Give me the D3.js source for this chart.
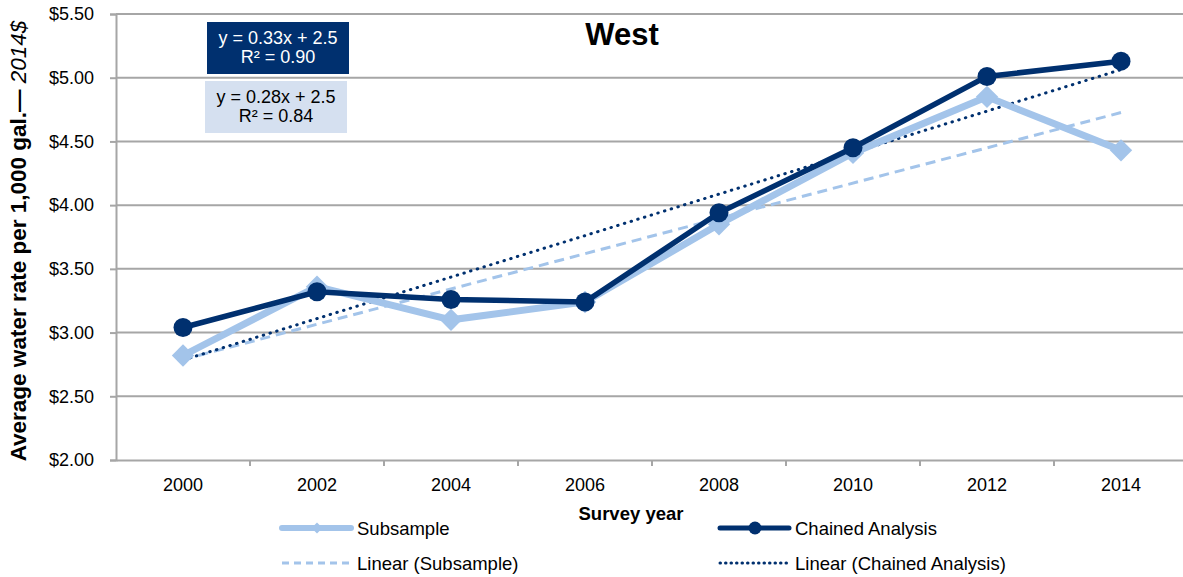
<!DOCTYPE html>
<html>
<head>
<meta charset="utf-8">
<script src="https://cdn.jsdelivr.net/npm/d3@7"></script>
<style>
  body { margin: 0; background: #fff; }
  svg { font-family: "Liberation Sans", Arial, sans-serif; }
</style>
</head>
<body>
<div class="chart"></div>
<script>
var years = ["2000", "2002", "2004", "2006", "2008", "2010", "2012", "2014"];
var subsample = [2.82, 3.36, 3.10, 3.24, 3.85, 4.41, 4.85, 4.43];
var chained = [3.04, 3.32, 3.26, 3.24, 3.94, 4.45, 5.01, 5.13];
var yTicks = [2.0, 2.5, 3.0, 3.5, 4.0, 4.5, 5.0, 5.5];
var eqChained = ["y = 0.33x + 2.5", "R² = 0.90"];
var eqSub = ["y = 0.28x + 2.5", "R² = 0.84"];

var width = 1183, height = 577;
var dark = "#00306f", light = "#a3c4ea", grid = "#a6a6a6";
var font = "Liberation Sans, Arial, sans-serif";

var svg = d3.select(".chart").append("svg")
    .attr("width", width)
    .attr("height", height);

var x = d3.scaleBand().domain(years).range([116, 1188]);
var y = d3.scaleLinear().domain([2, 5.5]).range([460, 14]);
var cx = function(i) { return x(years[i]) + x.bandwidth() / 2; };

// gridlines
svg.append("g").selectAll("line")
    .data(yTicks.slice(1)).enter()
    .append("line")
    .attr("x1", 116).attr("x2", width)
    .attr("y1", function(d) { return y(d); })
    .attr("y2", function(d) { return y(d); })
    .attr("stroke", grid).attr("stroke-width", 2);

// y axis
var yAxis = svg.append("g")
    .attr("transform", "translate(116,0)")
    .call(d3.axisLeft(y).tickValues(yTicks).tickSize(6).tickPadding(16)
      .tickFormat(d3.format("$.2f")));
yAxis.select(".domain").attr("stroke", grid).attr("stroke-width", 2);
yAxis.selectAll(".tick line").attr("stroke", grid).attr("stroke-width", 2);
yAxis.selectAll("text").attr("font-size", 18).attr("fill", "#000")
    .attr("font-family", font);

// x axis
var xAxis = svg.append("g")
    .attr("transform", "translate(0,460)")
    .call(d3.axisBottom(x).tickSize(0).tickPadding(18));
xAxis.select(".domain").attr("stroke", grid).attr("stroke-width", 2);
xAxis.selectAll("text").attr("font-size", 18).attr("fill", "#000")
    .attr("font-family", font);
svg.append("g").selectAll("line")
    .data(years.slice(1)).enter()
    .append("line")
    .attr("x1", function(d) { return x(d); })
    .attr("x2", function(d) { return x(d); })
    .attr("y1", 460).attr("y2", 466)
    .attr("stroke", grid).attr("stroke-width", 2);

// least squares trend
function fit(vals) {
  var n = vals.length, xs = d3.range(1, n + 1);
  var mx = d3.mean(xs), my = d3.mean(vals);
  var num = d3.sum(xs, function(v, i) { return (v - mx) * (vals[i] - my); });
  var den = d3.sum(xs, function(v) { return (v - mx) * (v - mx); });
  var b = num / den, a = my - b * mx;
  return [[0, a + b], [n - 1, a + b * n]];
}

var line = d3.line()
    .x(function(d, i) { return cx(i); })
    .y(function(d) { return y(d); });
var tline = d3.line()
    .x(function(d) { return cx(d[0]); })
    .y(function(d) { return y(d[1]); });

svg.append("path").datum(fit(subsample))
    .attr("d", tline).attr("fill", "none")
    .attr("stroke", light).attr("stroke-width", 3)
    .attr("stroke-dasharray", "10,6");
svg.append("path").datum(fit(chained))
    .attr("d", tline).attr("fill", "none")
    .attr("stroke", dark).attr("stroke-width", 3)
    .attr("stroke-dasharray", "0.5,6.5").attr("stroke-linecap", "round");

// series
svg.append("path").datum(subsample)
    .attr("d", line).attr("fill", "none")
    .attr("stroke", light).attr("stroke-width", 7);
svg.append("g").selectAll("path")
    .data(subsample).enter()
    .append("path")
    .attr("d", d3.symbol().type(d3.symbolSquare).size(250))
    .attr("transform", function(d, i) { return "translate(" + cx(i) + "," + y(d) + ") rotate(45)"; })
    .attr("fill", light);

svg.append("path").datum(chained)
    .attr("d", line).attr("fill", "none")
    .attr("stroke", dark).attr("stroke-width", 5.5);
svg.append("g").selectAll("circle")
    .data(chained).enter()
    .append("circle")
    .attr("cx", function(d, i) { return cx(i); })
    .attr("cy", function(d) { return y(d); })
    .attr("r", 9.5)
    .attr("fill", dark);

// equation boxes
function eqBox(lines, bx, by, fill, color) {
  svg.append("rect").attr("x", bx).attr("y", by)
      .attr("width", 142).attr("height", 52).attr("fill", fill);
  svg.append("g").selectAll("text")
      .data(lines).enter()
      .append("text")
      .attr("x", bx + 71)
      .attr("y", function(d, i) { return by + 22 + i * 19; })
      .attr("text-anchor", "middle")
      .attr("font-size", 18)
      .attr("fill", color)
      .text(function(d) { return d; });
}
eqBox(eqChained, 207, 22, dark, "#fff");
eqBox(eqSub, 205, 81, "#d5e0f0", "#000");

// title
svg.append("text")
    .attr("x", 622).attr("y", 45)
    .attr("text-anchor", "middle")
    .attr("font-size", 31).attr("font-weight", "bold")
    .text("West");

// axis titles
var yl = svg.append("text")
    .attr("transform", "translate(26,241) rotate(-90)")
    .attr("text-anchor", "middle")
    .attr("font-size", 22.5).attr("font-weight", "bold");
yl.append("tspan").text("Average water rate per 1,000 gal.— ");
yl.append("tspan").attr("font-weight", "normal").attr("font-style", "italic").text("2014$");

svg.append("text")
    .attr("x", 631).attr("y", 520)
    .attr("text-anchor", "middle")
    .attr("font-size", 18.5).attr("font-weight", "bold")
    .text("Survey year");

// legend
var legend = [
  { name: "Subsample", x: 282, y: 528, color: light, w: 6, dash: null, mark: "diamond" },
  { name: "Chained Analysis", x: 720, y: 528, color: dark, w: 5, dash: null, mark: "circle" },
  { name: "Linear (Subsample)", x: 282, y: 563, color: light, w: 3, dash: "7,5", mark: null },
  { name: "Linear (Chained Analysis)", x: 720, y: 563, color: dark, w: 3, dash: "0.5,5", mark: null }
];
var lg = svg.append("g").selectAll("g").data(legend).enter().append("g");
lg.append("line")
    .attr("x1", function(d) { return d.x; })
    .attr("x2", function(d) { return d.x + 69; })
    .attr("y1", function(d) { return d.y; })
    .attr("y2", function(d) { return d.y; })
    .attr("stroke", function(d) { return d.color; })
    .attr("stroke-width", function(d) { return d.w; })
    .attr("stroke-dasharray", function(d) { return d.dash; })
    .attr("stroke-linecap", function(d) { return d.mark ? "round" : (d.mark === null && d.dash === "0.5,5" ? "round" : "butt"); });
lg.filter(function(d) { return d.mark === "circle"; })
    .append("circle")
    .attr("cx", function(d) { return d.x + 35; })
    .attr("cy", function(d) { return d.y; })
    .attr("r", 6.5).attr("fill", dark);
lg.filter(function(d) { return d.mark === "diamond"; })
    .append("path")
    .attr("d", d3.symbol().type(d3.symbolSquare).size(60))
    .attr("transform", function(d) { return "translate(" + (d.x + 35) + "," + d.y + ") rotate(45)"; })
    .attr("fill", light);
lg.append("text")
    .attr("x", function(d) { return d.x + 75; })
    .attr("y", function(d) { return d.y + 7; })
    .attr("font-size", 18.5)
    .text(function(d) { return d.name; });
</script>
</body>
</html>
